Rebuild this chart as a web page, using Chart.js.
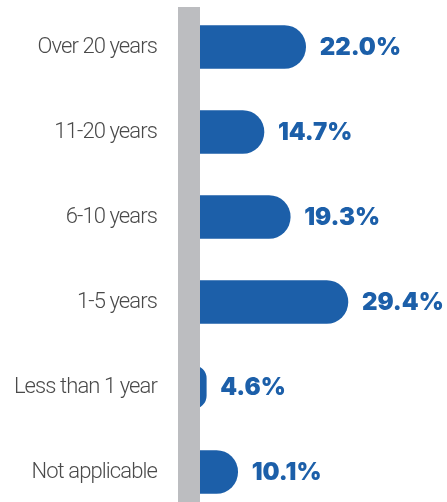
<!DOCTYPE html>
<html>
<head>
<meta charset="utf-8">
<script src="https://cdn.jsdelivr.net/npm/chart.js@4"></script>
<style>
    html, body { margin: 0; padding: 0; background: #ffffff; overflow: hidden; }
    #wrap { width: 447px; height: 502px; }
</style>
</head>
<body>
<div id="wrap"><canvas id="tenureChart"></canvas></div>
<script>
// Years of experience, share of respondents
const categories = ["Over 20 years", "11-20 years", "6-10 years", "1-5 years", "Less than 1 year", "Not applicable"];
const shares = [22.0, 14.7, 19.3, 29.4, 4.6, 10.1];
const valueLabels = ["22.0%", "14.7%", "19.3%", "29.4%", "4.6%", "10.1%"];

const blue = '#1c5fa9';
const grey = '#bcbdc0';

// Tighten the category labels a little so they read condensed
const tightLabels = {
    id: 'tightLabels',
    beforeDraw(chart) {
        chart.ctx.letterSpacing = '-0.9px';
    }
};

// Grey spine covering the bar bases, then the percentage next to each bar
const spineAndValues = {
    id: 'spineAndValues',
    afterDatasetsDraw(chart) {
        const ctx = chart.ctx;
        const left = chart.chartArea.left;
        ctx.save();
        ctx.letterSpacing = '0px';
        ctx.fillStyle = grey;
        ctx.fillRect(left - 2, 7, 22, chart.height - 7);

        ctx.fillStyle = blue;
        ctx.font = '900 24px Inter, "DejaVu Sans", sans-serif';
        ctx.textAlign = 'left';
        ctx.textBaseline = 'middle';
        chart.getDatasetMeta(0).data.forEach(function(bar, i) {
            ctx.fillText(valueLabels[i], bar.x + 14, bar.y + 1);
        });
        ctx.restore();
        ctx.letterSpacing = '0px';
    }
};

new Chart(document.getElementById('tenureChart'), {
    type: 'bar',
    data: {
        labels: categories,
        datasets: [{
            data: shares,
            backgroundColor: blue,
            barThickness: 43,
            borderSkipped: 'start',
            borderRadius: { topRight: 22, bottomRight: 22 },
            clip: false
        }]
    },
    options: {
        indexAxis: 'y',
        responsive: true,
        maintainAspectRatio: false,
        animation: false,
        layout: { padding: { top: 47, bottom: 30, left: 0, right: 10 } },
        plugins: {
            legend: { display: false },
            tooltip: { enabled: false }
        },
        scales: {
            x: {
                display: false,
                min: 0,
                max: 45
            },
            y: {
                offset: false,
                grid: { display: false },
                border: { display: false },
                ticks: {
                    padding: 15,
                    color: '#4a4a4a',
                    font: { family: 'Roboto, sans-serif', weight: 300, size: 22 }
                },
                afterFit: function(scale) {
                    scale.width = 180;
                }
            }
        }
    },
    plugins: [tightLabels, spineAndValues]
});
</script>
</body>
</html>
